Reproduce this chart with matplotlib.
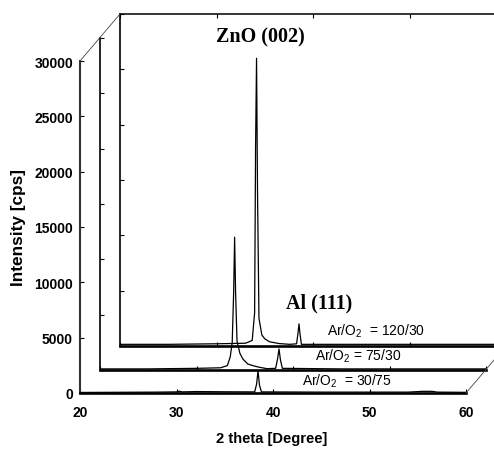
import matplotlib
matplotlib.use("Agg")
import matplotlib.pyplot as plt
from matplotlib.lines import Line2D

plt.rcParams['font.family'] = ['Liberation Sans', 'DejaVu Sans']
plt.rcParams['mathtext.fontset'] = 'custom'
plt.rcParams['mathtext.rm'] = 'Liberation Sans'

# XRD patterns (2 theta in degree, intensity in cps)
theta_120 = [20, 25, 30, 33.0, 33.7, 33.95, 34.05, 34.15, 34.25, 34.4, 34.7, 35.0,
             35.5, 36.5, 37.6, 38.3, 38.45, 38.55, 38.65, 38.8, 45, 50, 55, 60]
int_120 = [150, 150, 200, 250, 500, 3000, 18000, 26000, 14000, 2500, 1000, 650,
           380, 220, 150, 200, 1200, 2000, 1100, 150, 150, 150, 150, 150]

theta_75 = [20, 25, 30, 32.5, 33.2, 33.5, 33.7, 33.85, 33.95, 34.05, 34.2, 34.5, 34.8,
            35.3, 35.9, 36.5, 37.3, 38.2, 38.4, 38.55, 38.7, 38.9, 45, 50, 55, 60]
int_75 = [100, 100, 150, 200, 400, 1200, 2500, 7000, 12000, 7000, 2600, 1500, 1000,
          550, 380, 250, 120, 150, 1000, 1900, 900, 150, 100, 100, 100, 100]

theta_30 = [20, 28, 30, 30.3, 30.6, 32, 35, 38.1, 38.3, 38.45, 38.6, 38.8,
            45, 54, 55.5, 56.5, 57, 60]
int_30 = [50, 80, 100, 160, 100, 130, 110, 100, 800, 2000, 700, 100,
          80, 80, 150, 150, 80, 60]

series = [(theta_120, int_120), (theta_75, int_75), (theta_30, int_30)]
x_ticks = [20, 30, 40, 50, 60]
y_ticks = [0, 5000, 10000, 15000, 20000, 25000, 30000]

W, H = 494, 452
fig = plt.figure(figsize=(W / 100, H / 100), dpi=100)

# front panel in pixels, the others shifted back and up
left, bottom, width, height = 80, 394, 386, 332
shifts = [(40, 47), (20, 23), (0, 0)]   # back, middle, front

axes = []
for i, (dx, dy) in enumerate(shifts):
    ax = fig.add_axes([(left + dx) / W, (H - bottom + dy) / H, width / W, height / H])
    ax.patch.set_alpha(0)
    ax.set_xlim(20, 60)
    ax.set_ylim(0, 30000)
    ax.set_xticks(x_ticks)
    ax.set_yticks(y_ticks)
    ax.spines['right'].set_visible(False)
    ax.spines['top'].set_visible(i == 0)
    ax.spines['bottom'].set_linewidth(1.9)
    ax.spines['left'].set_linewidth(1.2)
    ax.spines['top'].set_linewidth(1.1)
    ax.tick_params(direction='in', length=3, width=0.8, top=(i == 0))
    th, inten = series[i]
    ax.plot(th, inten, color='black', lw=0.9)
    if i < 2:
        ax.tick_params(labelbottom=False, labelleft=False)
    axes.append(ax)

front = axes[2]
front.spines['left'].set_color('#333333')
front.spines['left'].set_linewidth(1.5)
front.tick_params(axis='x', pad=9)
front.tick_params(axis='y', pad=5)
for lab in front.get_xticklabels() + front.get_yticklabels():
    lab.set_fontsize(10)
    lab.set_fontweight('bold')

# connecting diagonals of the pseudo 3D frame
back = axes[0]
pf = front.get_position()
pb = back.get_position()
fig.add_artist(Line2D([pf.x0, pb.x0], [pf.y1, pb.y1], transform=fig.transFigure,
                      color='#444444', lw=0.6))
fig.add_artist(Line2D([pf.x1, pb.x1], [pf.y0, pb.y0], transform=fig.transFigure,
                      color='#444444', lw=0.6))

# annotations
fig.text(260 / W, 1 - 37 / H, 'ZnO (002)', family='Liberation Serif', weight='bold',
         fontsize=14.5, ha='center', va='center')
fig.text(319 / W, 1 - 303 / H, 'Al (111)', family='Liberation Serif', weight='bold',
         fontsize=14.5, ha='center', va='center')
fig.text(376 / W, 1 - 331 / H, r'Ar/O$_{\mathregular{2}}$  = 120/30', fontsize=10,
         ha='center', va='center')
fig.text(358 / W, 1 - 356 / H, r'Ar/O$_{\mathregular{2}}$ = 75/30', fontsize=10,
         ha='center', va='center')
fig.text(347 / W, 1 - 381 / H, r'Ar/O$_{\mathregular{2}}$  = 30/75', fontsize=10,
         ha='center', va='center')

fig.text(19 / W, 1 - 228 / H, 'Intensity [cps]', rotation=90, fontsize=12.4,
         weight='bold', ha='center', va='center')
fig.text(272 / W, 1 - 439 / H, '2 theta [Degree]', fontsize=10.6,
         weight='bold', ha='center', va='center')

fig.savefig('out.png', dpi=100)
